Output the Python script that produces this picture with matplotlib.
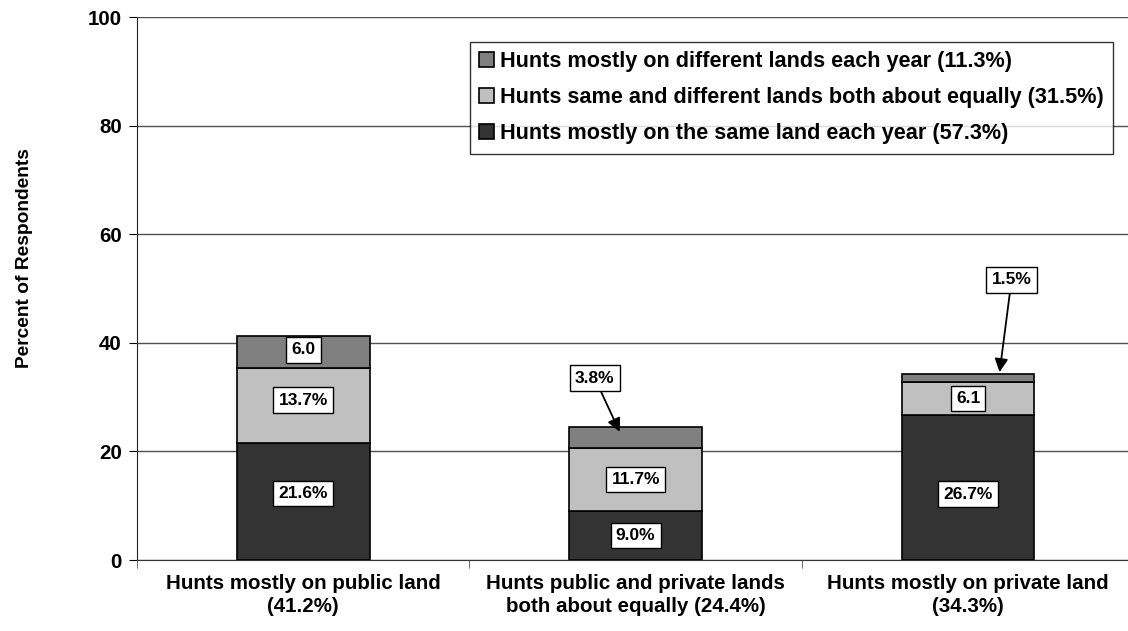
import numpy as np
import matplotlib.pyplot as plt

plt.rcParams['font.family'] = ['Liberation Sans', 'DejaVu Sans']
plt.rcParams['font.weight'] = 'bold'

# data
categories = ["Hunts mostly on public land\n(41.2%)",
              "Hunts public and private lands\nboth about equally (24.4%)",
              "Hunts mostly on private land\n(34.3%)"]
same_land = [21.6, 9.0, 26.7]
both_equal = [13.7, 11.7, 6.1]
diff_land = [6.0, 3.8, 1.5]
same_lbl = ["21.6%", "9.0%", "26.7%"]
both_lbl = ["13.7%", "11.7%", "6.1"]
diff_lbl = ["6.0", "3.8%", "1.5%"]
series_names = ["Hunts mostly on the same land each year (57.3%)",
                "Hunts same and different lands both about equally (31.5%)",
                "Hunts mostly on different lands each year (11.3%)"]
yticks = [0, 20, 40, 60, 80, 100]

fig = plt.figure(figsize=(11.28, 6.31), dpi=100)
ax = fig.add_axes([0.1215, 0.1125, 0.884, 0.8605])

x = np.arange(len(categories))
w = 0.4
same = np.array(same_land)
both = np.array(both_equal)
diff = np.array(diff_land)

ax.bar(x, same, w, color="#333333", edgecolor="black", lw=1.2, zorder=3, label=series_names[0])
ax.bar(x, both, w, bottom=same, color="#C0C0C0", edgecolor="black", lw=1.2, zorder=3, label=series_names[1])
ax.bar(x, diff, w, bottom=same + both, color="#808080", edgecolor="black", lw=1.2, zorder=3, label=series_names[2])

fs_val = 12.5
# small nudges so the label boxes sit where the original had them
nudge_same = [1.4, 0, -1.2]
nudge_both = [1.0, 0, 0]
box = dict(boxstyle="square,pad=0.3", fc="white", ec="black", lw=1)
for i in range(3):
    ax.text(x[i], same[i] / 2 + nudge_same[i], same_lbl[i], ha="center", va="center", fontsize=fs_val, bbox=box, zorder=5)
    ax.text(x[i], same[i] + both[i] / 2 + nudge_both[i], both_lbl[i], ha="center", va="center", fontsize=fs_val, bbox=box, zorder=5)
# top segment labels
ax.text(x[0], same[0] + both[0] + diff[0] / 2 + 0.4, diff_lbl[0], ha="center", va="center", fontsize=fs_val, bbox=box, zorder=5)
arrow = dict(arrowstyle="-|>", color="black", lw=1.3, mutation_scale=20, shrinkA=0, shrinkB=0)
ax.annotate(diff_lbl[1], xy=(x[1] - 0.048, 23.6), xytext=(x[1] - 0.123, 33.5),
            ha="center", va="center", fontsize=fs_val, bbox=box, zorder=5, arrowprops=arrow)
ax.annotate(diff_lbl[2], xy=(x[2] + 0.095, 34.6), xytext=(x[2] + 0.131, 51.6),
            ha="center", va="center", fontsize=fs_val, bbox=box, zorder=5, arrowprops=arrow)

ax.set_xlim(-0.5, 2.5)
ax.set_ylim(0, 100)
ax.set_yticks(yticks)
ax.set_xticks(x)
ax.set_xticklabels(categories, fontsize=14.8, fontweight="bold", linespacing=1.25)
ax.tick_params(axis="x", length=0, pad=10)
ax.set_xticks([-0.5, 0.5, 1.5, 2.5], minor=True)
ax.tick_params(axis="x", which="minor", length=6, direction="out", color="#555555")
ax.tick_params(axis="y", labelsize=14.8, length=6, color="black", pad=5)
ax.yaxis.grid(True, color="#505050", lw=1, zorder=0)
for s in ["top", "right"]:
    ax.spines[s].set_visible(False)
ax.spines["left"].set_color("#222222")
ax.spines["bottom"].set_color("#333333")
fig.text(25 / 1128, 1 - 258 / 631, "Percent of Respondents", rotation=90, ha="center", va="center",
         fontsize=13.8, fontweight="bold")

h, l = ax.get_legend_handles_labels()
leg = ax.legend(h[::-1], l[::-1], loc="upper right", bbox_to_anchor=(0.979, 0.954), fontsize=15.6,
                frameon=True, fancybox=False, edgecolor="black", handlelength=0.7, handleheight=0.7,
                handletextpad=0.28, borderpad=0.42, labelspacing=0.7, borderaxespad=0)
leg.get_frame().set_linewidth(1)

fig.savefig("out.png", dpi=100)
